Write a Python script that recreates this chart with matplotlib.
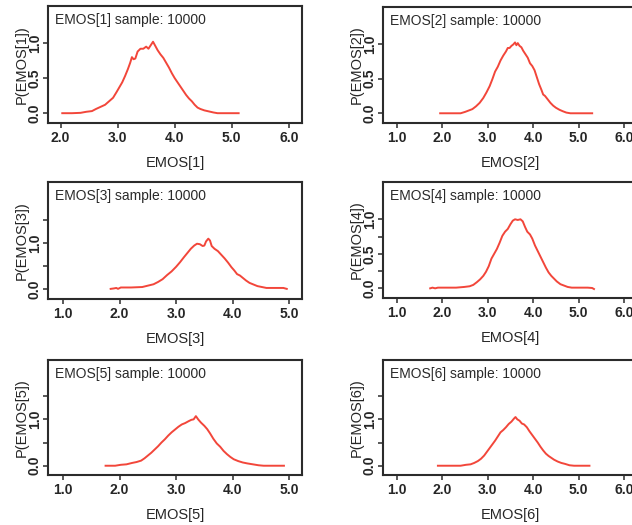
import matplotlib
matplotlib.use("Agg")
import matplotlib.pyplot as plt
from matplotlib.ticker import FixedLocator, FormatStrFormatter

plt.rcParams['font.family'] = ['Liberation Sans', 'DejaVu Sans']

# ---------------- data ----------------
titles = ["EMOS[1] sample: 10000", "EMOS[2] sample: 10000", "EMOS[3] sample: 10000",
          "EMOS[4] sample: 10000", "EMOS[5] sample: 10000", "EMOS[6] sample: 10000"]
xlabels = ["EMOS[1]", "EMOS[2]", "EMOS[3]", "EMOS[4]", "EMOS[5]", "EMOS[6]"]
ylabels = ["P(EMOS[1])", "P(EMOS[2])", "P(EMOS[3])", "P(EMOS[4])", "P(EMOS[5])", "P(EMOS[6])"]

x1 = [2.03, 2.20, 2.35, 2.45, 2.55, 2.62, 2.70, 2.78, 2.85, 2.92, 2.98, 3.03, 3.08, 3.13,
      3.18, 3.22, 3.25, 3.28, 3.31, 3.35, 3.40, 3.45, 3.50, 3.54, 3.58, 3.62, 3.66, 3.70,
      3.75, 3.80, 3.85, 3.90, 3.95, 4.00, 4.05, 4.10, 4.15, 4.20, 4.25, 4.30, 4.35, 4.40,
      4.45, 4.52, 4.60, 4.68, 4.75, 5.12]
y1 = [0.0, 0.0, 0.005, 0.02, 0.03, 0.06, 0.09, 0.12, 0.17, 0.22, 0.30, 0.37, 0.44, 0.53,
      0.63, 0.72, 0.80, 0.77, 0.78, 0.88, 0.92, 0.92, 0.95, 0.92, 0.97, 1.02, 0.96, 0.90,
      0.84, 0.79, 0.72, 0.65, 0.57, 0.50, 0.44, 0.38, 0.32, 0.26, 0.21, 0.17, 0.12, 0.08,
      0.06, 0.04, 0.025, 0.01, 0.0, 0.0]

x2 = [1.95, 2.40, 2.50, 2.58, 2.66, 2.74, 2.82, 2.90, 2.97, 3.04, 3.10, 3.16, 3.22, 3.28,
      3.34, 3.40, 3.44, 3.48, 3.52, 3.56, 3.60, 3.63, 3.66, 3.70, 3.74, 3.78, 3.83, 3.88,
      3.93, 3.98, 4.03, 4.08, 4.13, 4.18, 4.22, 4.26, 4.32, 4.38, 4.44, 4.50, 4.58, 4.65,
      4.73, 4.82, 5.30]
y2 = [0.0, 0.0, 0.02, 0.04, 0.06, 0.10, 0.15, 0.22, 0.30, 0.39, 0.49, 0.60, 0.67, 0.76,
      0.83, 0.89, 0.94, 0.94, 0.97, 0.99, 1.02, 0.98, 1.01, 0.97, 0.95, 0.90, 0.85, 0.80,
      0.72, 0.68, 0.62, 0.52, 0.42, 0.34, 0.27, 0.25, 0.20, 0.15, 0.11, 0.08, 0.05, 0.03,
      0.01, 0.0, 0.0]

x3 = [1.84, 1.90, 1.94, 1.97, 2.02, 2.20, 2.40, 2.50, 2.60, 2.68, 2.76, 2.84, 2.92, 3.00,
      3.07, 3.14, 3.20, 3.26, 3.32, 3.37, 3.42, 3.47, 3.50, 3.53, 3.57, 3.60, 3.63, 3.68,
      3.74, 3.80, 3.86, 3.92, 3.98, 4.03, 4.08, 4.13, 4.18, 4.24, 4.30, 4.36, 4.44, 4.52,
      4.60, 4.80, 4.90, 4.96]
y3 = [0.0, 0.01, 0.02, 0.0, 0.03, 0.03, 0.04, 0.07, 0.10, 0.15, 0.21, 0.30, 0.38, 0.48,
      0.58, 0.69, 0.78, 0.87, 0.94, 0.98, 0.97, 0.93, 0.94, 1.03, 1.09, 1.05, 0.93, 0.87,
      0.82, 0.74, 0.66, 0.57, 0.47, 0.40, 0.32, 0.29, 0.24, 0.18, 0.13, 0.10, 0.06, 0.04,
      0.02, 0.02, 0.02, 0.0]

x4 = [1.73, 1.78, 1.84, 1.90, 2.00, 2.30, 2.48, 2.60, 2.68, 2.76, 2.83, 2.90, 2.96, 3.02,
      3.08, 3.14, 3.20, 3.26, 3.32, 3.38, 3.44, 3.50, 3.55, 3.60, 3.66, 3.72, 3.77, 3.82,
      3.87, 3.93, 3.98, 4.04, 4.10, 4.16, 4.22, 4.28, 4.34, 4.40, 4.46, 4.52, 4.60, 4.68,
      4.76, 4.85, 5.20, 5.30, 5.34]
y4 = [0.0, 0.01, 0.0, 0.01, 0.01, 0.01, 0.02, 0.03, 0.05, 0.09, 0.13, 0.18, 0.24, 0.32,
      0.43, 0.50, 0.57, 0.66, 0.76, 0.82, 0.86, 0.93, 0.98, 1.0, 0.99, 1.0, 0.97, 0.89,
      0.82, 0.78, 0.72, 0.62, 0.54, 0.46, 0.38, 0.30, 0.23, 0.18, 0.14, 0.10, 0.06, 0.04,
      0.02, 0.01, 0.01, 0.005, -0.01]

x5 = [1.75, 1.92, 2.02, 2.12, 2.22, 2.30, 2.38, 2.44, 2.50, 2.56, 2.62, 2.68, 2.74, 2.80,
      2.86, 2.92, 2.98, 3.04, 3.10, 3.16, 3.22, 3.27, 3.31, 3.35, 3.39, 3.44, 3.50, 3.55,
      3.60, 3.66, 3.72, 3.78, 3.84, 3.90, 3.96, 4.02, 4.10, 4.18, 4.26, 4.36, 4.46, 4.55,
      4.91]
y5 = [0.0, 0.0, 0.02, 0.03, 0.06, 0.08, 0.11, 0.16, 0.22, 0.28, 0.35, 0.42, 0.50, 0.57,
      0.65, 0.72, 0.78, 0.84, 0.89, 0.92, 0.96, 0.99, 1.0, 1.07, 1.0, 0.93, 0.86, 0.79,
      0.70, 0.58, 0.48, 0.41, 0.32, 0.25, 0.19, 0.14, 0.10, 0.07, 0.05, 0.03, 0.01, 0.0,
      0.0]

x6 = [1.90, 2.40, 2.52, 2.62, 2.70, 2.78, 2.85, 2.92, 2.98, 3.04, 3.10, 3.16, 3.22, 3.28,
      3.34, 3.40, 3.46, 3.52, 3.58, 3.61, 3.65, 3.70, 3.75, 3.80, 3.86, 3.92, 3.98, 4.04,
      4.10, 4.16, 4.22, 4.28, 4.34, 4.40, 4.46, 4.54, 4.62, 4.70, 4.80, 4.90, 5.24]
y6 = [0.0, 0.0, 0.02, 0.03, 0.06, 0.10, 0.15, 0.22, 0.30, 0.38, 0.46, 0.54, 0.63, 0.72,
      0.77, 0.83, 0.90, 0.95, 1.02, 1.05, 1.0, 0.97, 0.91, 0.89, 0.83, 0.74, 0.66, 0.58,
      0.50, 0.41, 0.33, 0.26, 0.21, 0.17, 0.13, 0.09, 0.06, 0.04, 0.01, 0.0, 0.0]

xs = [x1, x2, x3, x4, x5, x6]
ys = [y1, y2, y3, y4, y5, y6]

# ---------------- layout / style ----------------
W, H = 632, 525
# (left, top, right, bottom) in pixels
boxes = [(48, 6, 302, 123), (383, 7, 638, 123),
         (48, 182, 302, 299), (383, 182, 638, 298),
         (48, 360, 302, 475), (383, 360, 638, 475)]
xlims = [(1.78, 6.23), (0.69, 6.31), (0.73, 5.23), (0.69, 6.31), (0.73, 5.23), (0.69, 6.31)]
ylims = [(-0.14, 1.53), (-0.14, 1.53), (-0.22, 2.32), (-0.14, 1.54), (-0.20, 2.28), (-0.20, 2.28)]
xticks = [[2, 3, 4, 5, 6], [1, 2, 3, 4, 5, 6], [1, 2, 3, 4, 5],
          [1, 2, 3, 4, 5, 6], [1, 2, 3, 4, 5], [1, 2, 3, 4, 5, 6]]
yticks = [[0, 0.5, 1.0], [0, 0.5, 1.0], [0, 1.0], [0, 0.5, 1.0], [0, 1.0], [0, 1.0]]
yminor = [[], [], [0.5, 1.5], [0.25, 0.75], [0.5, 1.5], [0.5, 1.5]]

line_color = '#f2463a'
text_color = '#262626'
spine_color = '#2b2b2b'

fig = plt.figure(figsize=(W / 100, H / 100), dpi=100)
fig.patch.set_facecolor('white')

for i in range(6):
    l, t, r, b = boxes[i]
    ax = fig.add_axes([l / W, (H - b) / H, (r - l) / W, (b - t) / H])
    ax.plot(xs[i], ys[i], color=line_color, lw=1.4)
    ax.set_xlim(*xlims[i])
    ax.set_ylim(*ylims[i])
    ax.xaxis.set_major_locator(FixedLocator(xticks[i]))
    ax.yaxis.set_major_locator(FixedLocator(yticks[i]))
    ax.yaxis.set_minor_locator(FixedLocator(yminor[i]))
    ax.xaxis.set_major_formatter(FormatStrFormatter('%.1f'))
    ax.yaxis.set_major_formatter(FormatStrFormatter('%.1f'))
    for s in ax.spines.values():
        s.set_color(spine_color)
        s.set_linewidth(1.5)
    ax.tick_params(axis='both', which='both', direction='out', length=3.6, width=1.1,
                   color=spine_color, labelcolor=text_color, labelsize=10)
    ax.tick_params(axis='x', pad=2.0)
    ax.tick_params(axis='y', pad=0.8, labelrotation=90)
    for lbl in ax.get_yticklabels():
        lbl.set_verticalalignment('center')
        lbl.set_fontweight('bold')
    for lbl in ax.get_xticklabels():
        lbl.set_fontweight('bold')
    ax.set_xlabel(xlabels[i], fontsize=10.5, color=text_color, va='center')
    ax.xaxis.set_label_coords(0.5, -40 / (b - t))
    ax.set_ylabel(ylabels[i], fontsize=10.5, color=text_color, va='center')
    ax.yaxis.set_label_coords(-26 / (r - l), 0.5)
    ax.text(7 / (r - l), 1 - 14 / (b - t), titles[i], transform=ax.transAxes,
            fontsize=10, color='#2a2a2a', ha='left', va='center')

fig.savefig('out.png', dpi=100, facecolor='white')
